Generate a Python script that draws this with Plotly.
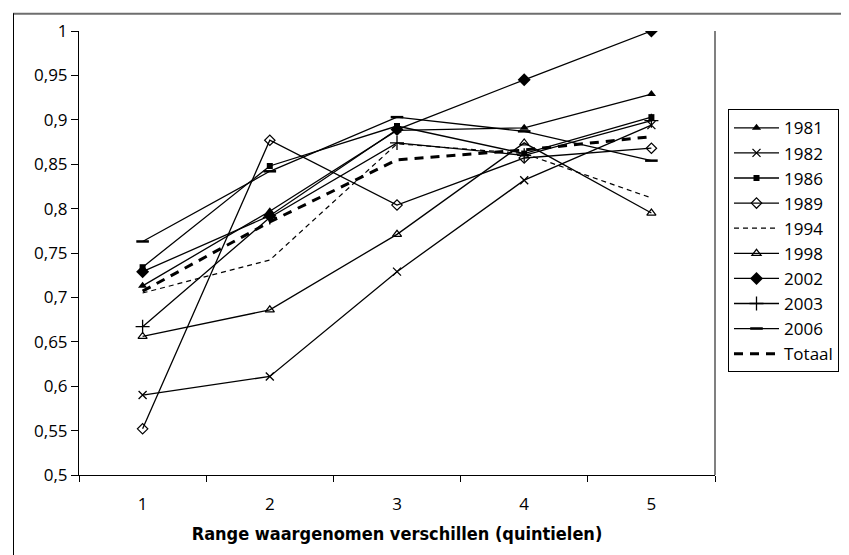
import plotly.graph_objects as go

categories = [1, 2, 3, 4, 5]
x_labels = ["1", "2", "3", "4", "5"]
y_tickvals = [0.5, 0.55, 0.6, 0.65, 0.7, 0.75, 0.8, 0.85, 0.9, 0.95, 1.0]
y_ticktext = ["0,5", "0,55", "0,6", "0,65", "0,7", "0,75", "0,8", "0,85", "0,9", "0,95", "1"]

s1981 = [0.713, 0.797, 0.888, 0.891, 0.929]
s1982 = [0.590, 0.611, 0.729, 0.832, 0.894]
s1986 = [0.734, 0.848, 0.893, 0.862, 0.903]
s1989 = [0.552, 0.877, 0.804, 0.857, 0.868]
s1994 = [0.705, 0.742, 0.873, 0.862, 0.812]
s1998 = [0.656, 0.686, 0.771, 0.874, 0.795]
s2002 = [0.729, 0.792, 0.889, 0.945, 1.000]
s2003 = [0.667, 0.790, 0.874, 0.860, 0.899]
s2006 = [0.763, 0.842, 0.903, 0.887, 0.854]
totaal = [0.707, 0.785, 0.855, 0.866, 0.881]

x_title = "Range waargenomen verschillen (quintielen)"

FONT = "Open Sans, Noto Sans, sans-serif"
fig = go.Figure()

def add(name, y, symbol=None, size=7, dash="solid", width=1.3, mline=1.3):
    mode = "lines+markers" if symbol else "lines"
    kw = {}
    if symbol:
        kw["marker"] = dict(symbol=symbol, size=size, color="black",
                            line=dict(color="black", width=mline))
    fig.add_trace(go.Scatter(x=categories, y=y, name=name, mode=mode,
                             legendgroup=name,
                             line=dict(color="black", width=width, dash=dash), **kw))

add("1981", s1981, "triangle-up", 8, mline=0)
add("1982", s1982, "x-thin-open", 8, mline=1.3)
add("1986", s1986, "square", 6, mline=0)
add("1989", s1989, "diamond-open", 8, mline=1.2)
add("1994", s1994, None, dash="5px,4px", width=1.2)
add("1998", s1998, "triangle-up-open", 8, mline=1.2)
add("2002", s2002, "diamond", 10, mline=0)
add("2003", s2003, "cross-thin-open", 10, mline=1.3)
add("2006", s2006, "line-ew-open", 9, mline=2.5)
add("Totaal", totaal, None, dash="9px,7px", width=3)

L, R, T, B = 71, 707, 22.7, 467.1
W, H = 849, 555
pw, ph = R - L, B - T

fig.update_layout(
    width=W, height=H,
    margin=dict(l=L, r=W - R, t=T, b=H - B, pad=0),
    paper_bgcolor="white", plot_bgcolor="white",
    font=dict(family=FONT, size=16, color="black"),
    separators=",.",
    showlegend=True,
    legend=dict(x=(720 - L) / pw, y=(B - 101) / ph, xanchor="left", yanchor="top",
                bordercolor="black", borderwidth=1, bgcolor="white",
                font=dict(family=FONT, size=17, color="black"),
                tracegroupgap=4, itemwidth=45, traceorder="normal"),
    xaxis=dict(range=[0.5, 5.5], tickvals=categories, ticktext=x_labels,
               ticks="", showgrid=False, zeroline=False,
               showline=True, linecolor="black", linewidth=1,
               tickfont=dict(size=17), ticklabelstandoff=14,
               minor=dict(tick0=0.5, dtick=1, ticks="outside", ticklen=6,
                          tickcolor="black", showgrid=False),
               title=dict(text="<b>" + x_title + "</b>",
                          font=dict(family="Liberation Sans Narrow, DejaVu Sans Condensed, Roboto, sans-serif", size=18),
                          standoff=12)),
    yaxis=dict(range=[0.5, 1.0], tickvals=y_tickvals, ticktext=y_ticktext,
               ticks="outside", ticklen=7, tickcolor="black",
               showgrid=False, zeroline=False,
               showline=True, linecolor="black", linewidth=1,
               tickfont=dict(size=17)),
    shapes=[
        dict(type="line", xref="paper", yref="paper", x0=1, x1=1, y0=0, y1=1,
             line=dict(color="#808080", width=2)),
        dict(type="line", xref="paper", yref="paper",
             x0=(5 - L) / pw, x1=(W + 5 - L) / pw, y0=(B - 5.5) / ph, y1=(B - 5.5) / ph,
             line=dict(color="#6e6e6e", width=2)),
        dict(type="line", xref="paper", yref="paper",
             x0=(5.5 - L) / pw, x1=(5.5 - L) / pw, y0=(B - 5) / ph, y1=(B - H - 5) / ph,
             line=dict(color="black", width=1)),
    ],
)

fig.write_html("out.html")
